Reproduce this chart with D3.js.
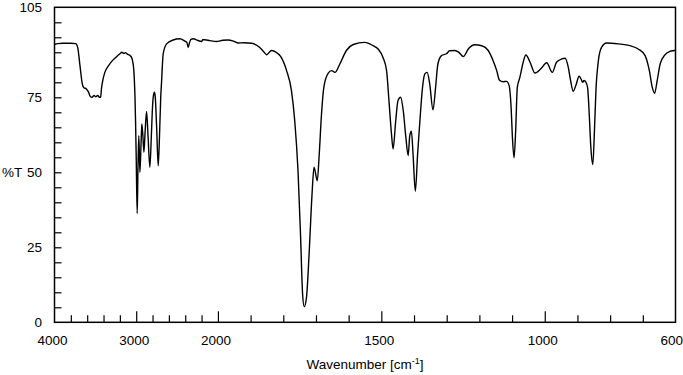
<!DOCTYPE html>
<html>
<head>
  <meta charset="utf-8">
  <script src="https://d3js.org/d3.v7.min.js"></script>
</head>
<style>
  body { margin: 0; background: #fff; }
  svg text { font-family: "Liberation Sans", Arial, sans-serif; font-size: 13.5px; fill: #000; }
</style>
<body>
<div id="chart"></div>
<script>
// spectrum (wavenumber in cm-1, transmittance in %)
var wavenumbers = [4000, 3960, 3900, 3800, 3740, 3715, 3690, 3660, 3640, 3610, 3585, 3560, 3540, 3515, 3495, 3470, 3450, 3435, 3425, 3410,
  3384, 3340, 3302, 3250, 3200, 3175, 3150, 3130, 3110, 3080, 3057, 3040, 3029, 3015, 3008, 3000, 2988, 2978, 2968, 2955,
  2940, 2931, 2918, 2906, 2890, 2873, 2855, 2833, 2815, 2800, 2792, 2778, 2768, 2750, 2731, 2715, 2700, 2690, 2670, 2628,
  2548, 2465, 2404, 2380, 2364, 2350, 2330, 2303, 2250, 2215, 2200, 2185, 2160, 2100, 2017, 1985, 1969, 1950, 1938, 1920,
  1897, 1872, 1860, 1851, 1836, 1816, 1810, 1795, 1790, 1775, 1765, 1755, 1747, 1741, 1736, 1729, 1721, 1712, 1706, 1696,
  1690, 1683, 1676, 1663, 1652, 1642, 1627, 1607, 1586, 1551, 1525, 1510, 1495, 1484, 1476, 1469, 1464, 1456, 1449, 1441,
  1433, 1425, 1418, 1413, 1408, 1403, 1396, 1389, 1382, 1374, 1367, 1360, 1352, 1342, 1334, 1327, 1316, 1301, 1291, 1275,
  1263, 1249, 1234, 1214, 1193, 1173, 1158, 1147, 1139, 1127, 1117, 1109, 1103, 1099, 1094, 1089, 1084, 1076, 1066, 1058,
  1045, 1030, 1012, 994, 977, 964, 948, 938, 928, 921, 913, 905, 895, 889, 884, 880, 874, 869, 864, 859,
  853, 848, 843, 836, 826, 811, 775, 739, 714, 693, 680, 671, 664, 656, 647, 632, 617, 604, 600];
var transmittance = [92.6, 92.9, 93.0, 93.0, 92.9, 91.5, 86, 79.5, 78.2, 77.8, 76.8, 75.2, 75.0, 75.6, 75.2, 75.6, 75.0, 75.1, 78, 80.5,
  83.3, 85.5, 86.9, 88.3, 89.5, 90.0, 89.6, 89.9, 89.4, 89.0, 88.3, 86.5, 83.9, 75, 67, 55, 36.3, 52, 62.2, 50,
  60, 66.1, 62, 56.7, 64, 70.3, 62, 51.7, 62, 72, 75, 76.7, 75.5, 65, 52.2, 62, 75, 80, 89.5, 92.8,
  94.1, 94.5, 93.7, 93.3, 91.6, 93.0, 94.3, 94.5, 94.0, 93.7, 93.6, 94.2, 94.2, 93.9, 93.6, 94.0, 94.1, 93.6, 93.1, 93.2,
  93.0, 91.6, 90.2, 89.2, 90.6, 89.5, 88.9, 85.6, 83.9, 77.2, 67.2, 50.6, 28.3, 9.5, 5.2, 8.3, 22.8, 42.8, 51.7, 47.2,
  56.1, 69.5, 78.3, 83, 83.9, 83.3, 86.1, 90.6, 92.6, 93.3, 92.2, 91.1, 88.3, 83.9, 72.8, 62.8, 57.8, 67.2, 73.9, 75,
  70.6, 61.7, 55.6, 62.2, 63.7, 56.1, 43.7, 56.1, 67.2, 78.3, 82.8, 83.3, 79.5, 70.8, 78.3, 86.1, 88.9, 89.5, 90.5, 90.6,
  90, 88.6, 91.1, 92.5, 92.2, 90.6, 87.2, 83.9, 80.8, 80.2, 80.3, 78.9, 71.7, 61.7, 54.8, 63.9, 78.3, 81.7, 86.7, 89.1,
  86.7, 83.1, 84.5, 86.5, 83.3, 86.7, 87.8, 88, 85, 80.6, 77, 78.9, 82, 81.1, 80, 80.6, 80, 78.3, 69.5, 58.3,
  52.6, 63.9, 78.3, 87.2, 91.7, 93.1, 92.8, 92.2, 91.1, 88.9, 83.9, 78.3, 76.3, 80.6, 86.1, 89.2, 90.3, 90.6, 90.7];

// axis ticks (x axis is compressed 4x above 2000 cm-1)
var xMajor = [4000, 3000, 2000, 1500, 1000, 600];
var xMinor = [3800, 3600, 3400, 3200, 2800, 2600, 2400, 2200,
  1900, 1800, 1700, 1600, 1400, 1300, 1200, 1100, 900, 800, 700];
var yLabels = [0, 25, 50, 75, 105];
var yTicks = d3.range(5, 105, 5);

var width = 683, height = 375;
// plot box ("top" is taken by window.top, so use other names)
var padL = 54.5, padR = 675.5, padT = 7.3, padB = 322.3;

var svg = d3.select("#chart").append("svg")
    .attr("width", width)
    .attr("height", height);

// piecewise scale: 4000-2000 and 2000-600 have different densities
var x = d3.scaleLinear()
    .domain([4000, 2000, 600])
    .range([padL, padL + (padR - padL) * 2000 / 7600, padR]);
var y = d3.scaleLinear().domain([0, 105]).range([padB, padT]);

// minor ticks on x
svg.append("g")
    .attr("transform", "translate(0," + padB + ")")
    .call(d3.axisBottom(x).tickValues(xMinor).tickSize(-7).tickFormat(""))
    .call(function (g) { g.select(".domain").remove(); });

// major ticks on x
svg.append("g")
    .attr("transform", "translate(0," + padB + ")")
    .call(d3.axisBottom(x).tickValues(xMajor.slice(1, -1)).tickSize(-11).tickFormat(""))
    .call(function (g) { g.select(".domain").remove(); });

// x labels
svg.append("g")
    .selectAll("text")
    .data(xMajor)
    .enter()
    .append("text")
    .attr("x", function (d) { return d === 600 ? 683 : x(d) - 2; })
    .attr("y", padB + 23)
    .attr("text-anchor", function (d) { return d === 600 ? "end" : "middle"; })
    .text(function (d) { return d; });

// y ticks
svg.append("g")
    .attr("transform", "translate(" + padL + ",0)")
    .call(d3.axisLeft(y).tickValues(yTicks).tickSize(-7).tickFormat(""))
    .call(function (g) { g.select(".domain").remove(); });

// y labels
svg.append("g")
    .selectAll("text")
    .data(yLabels)
    .enter()
    .append("text")
    .attr("x", 42)
    .attr("y", function (d) { return y(d) + 5; })
    .attr("text-anchor", "end")
    .text(function (d) { return d; });

svg.selectAll(".tick line").attr("stroke", "#000").attr("stroke-width", 1.2);

// spectrum line
var points = wavenumbers.map(function (w, i) { return [w, transmittance[i]]; });
var line = d3.line()
    .x(function (d) { return x(d[0]); })
    .y(function (d) { return y(d[1]); })
    .curve(d3.curveMonotoneX);

svg.append("path")
    .datum(points)
    .attr("d", line)
    .attr("fill", "none")
    .attr("stroke", "#000")
    .attr("stroke-width", 1.4)
    .attr("stroke-linejoin", "round");

// frame
svg.append("rect")
    .attr("x", padL)
    .attr("y", padT)
    .attr("width", padR - padL)
    .attr("height", padB - padT)
    .attr("fill", "none")
    .attr("stroke", "#000")
    .attr("stroke-width", 1.5);

// axis titles
svg.append("text")
    .attr("x", 2)
    .attr("y", y(50) + 5)
    .text("%T");

var xt = svg.append("text")
    .attr("x", (padL + padR) / 2)
    .attr("y", 369)
    .attr("text-anchor", "middle")
    .text("Wavenumber [cm");
xt.append("tspan").attr("dy", -5).style("font-size", "9px").text("-1");
xt.append("tspan").attr("dy", 5).text("]");
</script>
</body>
</html>
